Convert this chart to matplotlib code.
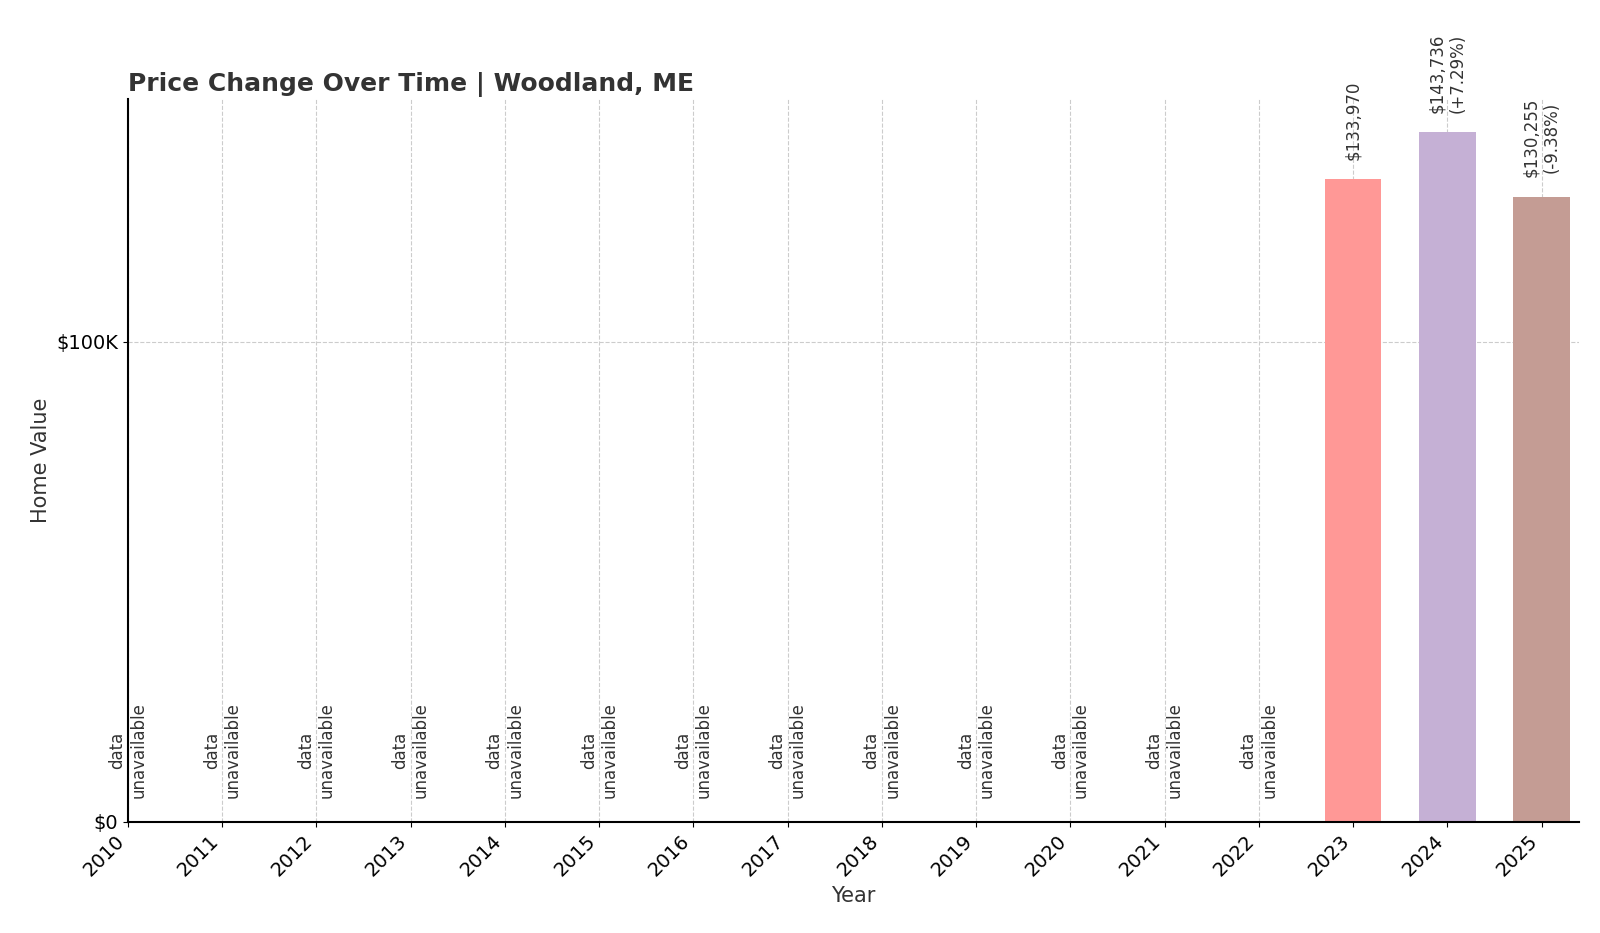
import matplotlib
matplotlib.use("Agg")
import matplotlib.pyplot as plt

years = list(range(2010, 2026))
values = [None]*13 + [133970, 143736, 130255]
labels = [None]*13 + ["$133,970", "$143,736\n(+7.29%)", "$130,255\n(-9.38%)"]
colors = {2023: "#ff9896", 2024: "#c5b0d5", 2025: "#c49c94"}

fig = plt.figure(figsize=(16, 9.33), dpi=100)
ax = fig.add_axes([0.08, 0.119, 0.907, 0.775])
for y, v, lab in zip(years, values, labels):
    if v is None:
        ax.text(y, 5000, "data\nunavailable", rotation=90, ha="center", va="bottom",
                fontsize=12, color="#333333")
    else:
        ax.bar(y, v, width=0.6, color=colors[y], zorder=2)
        ax.text(y, v + 4000, lab, rotation=90, ha="center", va="bottom",
                fontsize=12, color="#333333")
ax.set_xlim(2010, 2025.4)
ax.set_ylim(0, 150600)
ax.set_xticks(years)
ax.set_xticklabels([str(y) for y in years], rotation=45, ha="right", fontsize=14)
ax.set_yticks([0, 100000])
ax.set_yticklabels(["$0", "$100K"], fontsize=14)
ax.grid(True, linestyle="--", color="#cccccc", linewidth=0.8, zorder=0)
ax.set_axisbelow(True)
for s in ["top", "right"]:
    ax.spines[s].set_visible(False)
ax.spines["left"].set_linewidth(1.5)
ax.spines["bottom"].set_linewidth(1.5)
ax.set_xlabel("Year", fontsize=15, color="#333333")
ax.set_ylabel("Home Value", fontsize=15, color="#333333")
ax.set_title("Price Change Over Time | Woodland, ME", loc="left", fontsize=18,
             fontweight="bold", color="#333333")
fig.savefig("out.png")
